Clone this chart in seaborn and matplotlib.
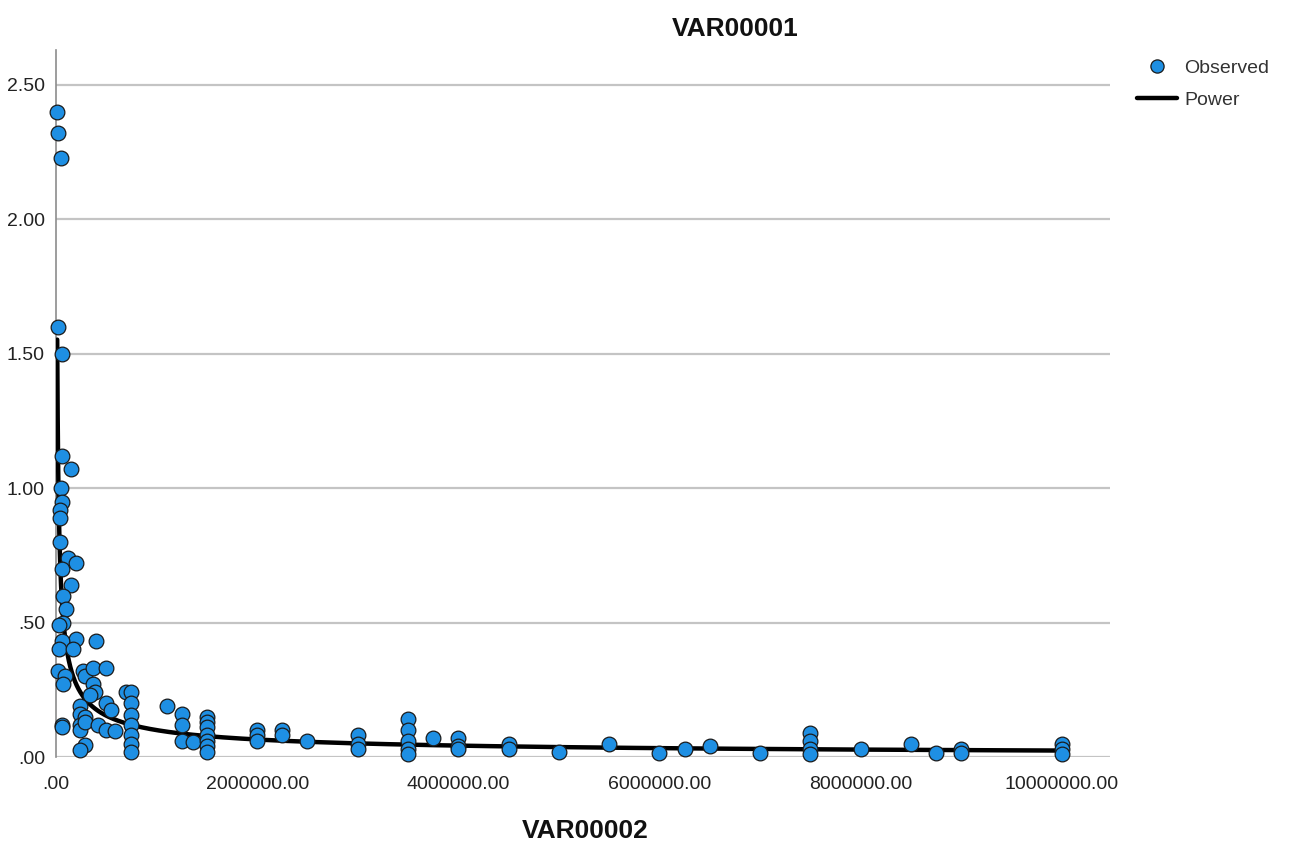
import numpy as np
import pandas as pd
import matplotlib
matplotlib.use("Agg")
import matplotlib.pyplot as plt
from matplotlib.ticker import FuncFormatter
from matplotlib.lines import Line2D
import seaborn as sns

# observed points: VAR00002 (x) vs VAR00001 (y)
var2 = [
    12000, 20000, 50000, 20000, 60000, 60000, 150000, 50000, 60000, 40000,
    40000, 40000, 120000, 200000, 60000, 150000, 70000, 100000, 70000, 30000,
    200000, 400000, 60000, 30000, 170000, 20000, 90000, 70000, 60000, 60000,
    270000, 290000, 370000, 500000, 370000, 390000, 340000, 240000, 240000, 240000,
    240000, 290000, 290000, 500000, 550000, 420000, 500000, 590000, 290000, 240000,
    700000, 750000, 750000, 750000, 750000, 750000, 750000, 750000,
    1100000, 1250000, 1250000, 1250000, 1360000,
    1500000, 1500000, 1500000, 1500000, 1500000, 1500000, 1500000,
    2000000, 2000000, 2000000, 2250000, 2250000, 2500000,
    3000000, 3000000, 3000000, 3500000, 3500000, 3500000, 3500000, 3500000,
    3750000, 4000000, 4000000, 4000000, 4500000, 4500000, 5000000, 5500000,
    6000000, 6250000, 6500000, 7000000, 7500000, 7500000, 7500000, 7500000,
    8000000, 8500000, 8750000, 9000000, 9000000, 10000000, 10000000, 10000000,
]
var1 = [
    2.40, 2.32, 2.23, 1.60, 1.50, 1.12, 1.07, 1.00, 0.95, 0.92,
    0.89, 0.80, 0.74, 0.72, 0.70, 0.64, 0.60, 0.55, 0.50, 0.49,
    0.44, 0.43, 0.43, 0.40, 0.40, 0.32, 0.30, 0.27, 0.12, 0.11,
    0.32, 0.30, 0.33, 0.33, 0.27, 0.24, 0.23, 0.19, 0.16, 0.12,
    0.10, 0.15, 0.13, 0.20, 0.175, 0.12, 0.10, 0.095, 0.045, 0.026,
    0.24, 0.24, 0.20, 0.155, 0.12, 0.08, 0.05, 0.02,
    0.19, 0.16, 0.12, 0.06, 0.055,
    0.15, 0.13, 0.11, 0.08, 0.06, 0.04, 0.02,
    0.10, 0.08, 0.06, 0.10, 0.08, 0.06,
    0.08, 0.05, 0.03, 0.14, 0.10, 0.06, 0.03, 0.01,
    0.07, 0.07, 0.04, 0.03, 0.05, 0.03, 0.02, 0.05,
    0.015, 0.03, 0.04, 0.015, 0.09, 0.06, 0.03, 0.01,
    0.03, 0.05, 0.015, 0.03, 0.015, 0.05, 0.03, 0.01,
]

# power model y = b0 * x ** b1 (coefficients)
POWER_B0 = 525.0
POWER_B1 = -0.62

obs = pd.DataFrame({"VAR00002": var2, "VAR00001": var1})
xs = np.linspace(min(var2), max(var2), 4000)
xs = np.concatenate([np.geomspace(min(var2), 500000, 400), xs])
xs.sort()
fit = pd.DataFrame({"VAR00002": xs, "VAR00001": POWER_B0 * xs ** POWER_B1})

sns.set_style("white")
plt.rcParams["font.family"] = ["Liberation Sans", "DejaVu Sans"]

POINT_COLOR = "#1e8fe3"

fig = plt.figure(figsize=(12.99, 8.46), dpi=100)
ax = fig.add_axes([56 / 1299, 89 / 846, (1110 - 56) / 1299, (757 - 50) / 846])

sns.lineplot(data=fit, x="VAR00002", y="VAR00001", ax=ax, color="black",
             linewidth=3.2, estimator=None, sort=False, zorder=3)
sns.scatterplot(data=obs, x="VAR00002", y="VAR00001", ax=ax, s=112,
                color=POINT_COLOR, edgecolor="#1a1a1a", linewidth=0.9,
                zorder=4, clip_on=False)

ax.set_xlim(0, 10.48e6)
ax.set_ylim(0, 2.63)
ax.set_xticks([0, 2e6, 4e6, 6e6, 8e6, 10e6])
ax.set_yticks([0, 0.5, 1.0, 1.5, 2.0, 2.5])


def spss_fmt(v, pos):
    s = f"{v:.2f}"
    if s.startswith("0."):
        s = s[1:]
    return s


ax.xaxis.set_major_formatter(FuncFormatter(spss_fmt))
ax.yaxis.set_major_formatter(FuncFormatter(spss_fmt))
ax.tick_params(axis="both", length=0, labelsize=14, colors="#222222")
ax.tick_params(axis="x", pad=14)
ax.tick_params(axis="y", pad=8)

ax.grid(axis="y", color="#c4c4c4", linewidth=1.6)
ax.grid(axis="x", visible=False)
ax.set_axisbelow(True)
for side in ["top", "right", "bottom"]:
    ax.spines[side].set_visible(False)
ax.spines["left"].set_color("#8c8c8c")
ax.spines["left"].set_linewidth(1.2)

ax.set_xlabel("")
ax.set_ylabel("")
fig.text(735 / 1299, 1 - 29 / 846, "VAR00001", ha="center", va="center",
         fontsize=19, fontweight="bold", color="#111111")
fig.text(585 / 1299, 1 - 831 / 846, "VAR00002", ha="center", va="center",
         fontsize=19, fontweight="bold", color="#111111")

handles = [
    Line2D([], [], marker="o", linestyle="none", markersize=9.5,
           markerfacecolor=POINT_COLOR, markeredgecolor="#1a1a1a",
           markeredgewidth=0.9),
    Line2D([], [], color="black", linewidth=3.2),
]
fig.legend(handles, ["Observed", "Power"], loc="upper left",
           bbox_to_anchor=(1119 / 1299, 1 - 42 / 846), frameon=False,
           fontsize=14, handlelength=2.1, handletextpad=0.35,
           labelspacing=0.75, labelcolor="#333333")

fig.savefig("out.png", dpi=100)
